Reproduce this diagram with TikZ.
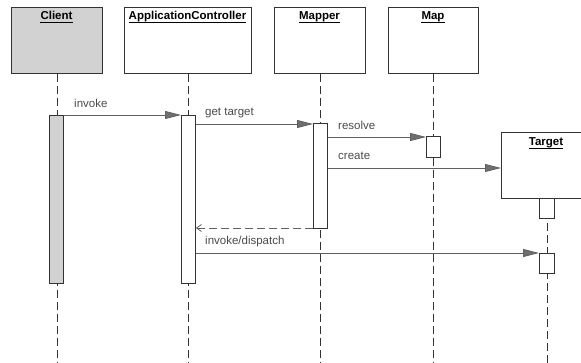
\documentclass[tikz,border=0pt]{standalone}
\usepackage{fontspec}
\setmainfont{Liberation Sans}
\usetikzlibrary{arrows.meta}
\definecolor{bordercol}{HTML}{333333}
\definecolor{linecol}{HTML}{606060}
\definecolor{tipfill}{HTML}{6E6E6E}
\definecolor{labelcol}{HTML}{4A4A4A}
\definecolor{clientfill}{HTML}{D2D2D2}
\begin{document}
\begin{tikzpicture}[x=1pt,y=-1pt,
  objbox/.style={draw=bordercol, line width=0.8pt, fill=white, anchor=north west, inner sep=0pt},
  ttl/.style={font=\fontsize{11.5}{13}\selectfont\bfseries, text=black, inner sep=0pt, anchor=base},
  uline/.style={draw=black, line width=0.8pt},
  lifeline/.style={draw=bordercol, line width=0.8pt, dash pattern=on 8pt off 4pt},
  act/.style={draw=bordercol, line width=0.8pt, fill=white, anchor=north west, inner sep=0pt, minimum width=14pt},
  msg/.style={draw=linecol, line width=0.8pt, -{Triangle[length=16pt,width=8pt,fill=tipfill]}},
  ret/.style={draw=linecol, line width=0.8pt, dash pattern=on 8pt off 4pt, -{Straight Barb[length=5pt,width=7pt]}},
  lbl/.style={font=\fontsize{11.5}{13}\selectfont, text=labelcol, inner sep=0pt, anchor=base west}
]
\useasboundingbox (0,0) rectangle (581,363);

% object boxes
\node[objbox, fill=clientfill, minimum width=91pt, minimum height=66pt] (client) at (11,7) {};
\node[objbox, minimum width=127pt, minimum height=66pt] (ctrl) at (124,7) {};
\node[objbox, minimum width=91pt, minimum height=66pt] (mapper) at (274,7) {};
\node[objbox, minimum width=90pt, minimum height=66pt] (map) at (388,7) {};

% bottom ends of lifelines
\coordinate (clientEnd) at (57,363);
\coordinate (ctrlEnd) at (188,363);
\coordinate (mapperEnd) at (320,363);
\coordinate (mapEnd) at (433,363);
\coordinate (targetEnd) at (547,363);

% lifelines
\draw[lifeline] (client.south -| clientEnd) -- (clientEnd);
\draw[lifeline] (ctrl.south -| ctrlEnd) -- (ctrlEnd);
\draw[lifeline] (mapper.south -| mapperEnd) -- (mapperEnd);
\draw[lifeline] (map.south -| mapEnd) -- (mapEnd);

% target box
\node[objbox, minimum width=100pt, minimum height=66pt] (target) at (501,132) {};
\draw[lifeline] (target.south -| targetEnd) -- (targetEnd);

% titles
\node[ttl] (tclient) at (56.5,20) {Client};
\node[ttl] (tctrl) at (187.5,20) {ApplicationController};
\node[ttl] (tmapper) at (319.5,20) {Mapper};
\node[ttl] (tmap) at (433,20) {Map};
\node[ttl] (ttarget) at (546,146) {Target};
\foreach \t in {tclient,tctrl,tmapper,tmap,ttarget}
  \draw[uline] ([yshift=-2.2pt]\t.base west) -- ([yshift=-2.2pt]\t.base east);

% activations
\node[act, fill=clientfill, minimum height=168pt] (aclient) at (49,115) {};
\node[act, minimum height=168pt] (actrl) at (181,115) {};
\node[act, minimum height=105pt] (amapper) at (313,123) {};
\node[act, minimum height=21pt] (amap) at (426,136) {};
\node[act, minimum width=15pt, minimum height=20pt] (atarget1) at (539,198) {};
\node[act, minimum width=15pt, minimum height=20pt] (atarget2) at (539,253) {};

% message heights
\coordinate (m1) at (0,115);
\coordinate (m2) at (0,124);
\coordinate (m3) at (0,137);
\coordinate (m4) at (0,168);
\coordinate (m5) at (0,228);
\coordinate (m6) at (0,253);

% messages
\draw[msg] (aclient.east |- m1) -- (actrl.west |- m1);
\draw[msg] (actrl.east |- m2) -- (amapper.west |- m2);
\draw[msg] (amapper.east |- m3) -- (amap.west |- m3);
\draw[msg] (amapper.east |- m4) -- (target.west |- m4);
\draw[ret] (amapper.west |- m5) -- (actrl.east |- m5);
\draw[msg] (actrl.east |- m6) -- (atarget2.west |- m6);

% labels
\node[lbl] (l1) at (74,108) {invoke};
\node[lbl] (l2) at (205,116) {get target};
\node[lbl] (l3) at (338,130) {resolve};
\node[lbl] (l4) at (338,160) {create};
\node[lbl] (l6) at (205,245) {invoke/dispatch};
\end{tikzpicture}
\end{document}
